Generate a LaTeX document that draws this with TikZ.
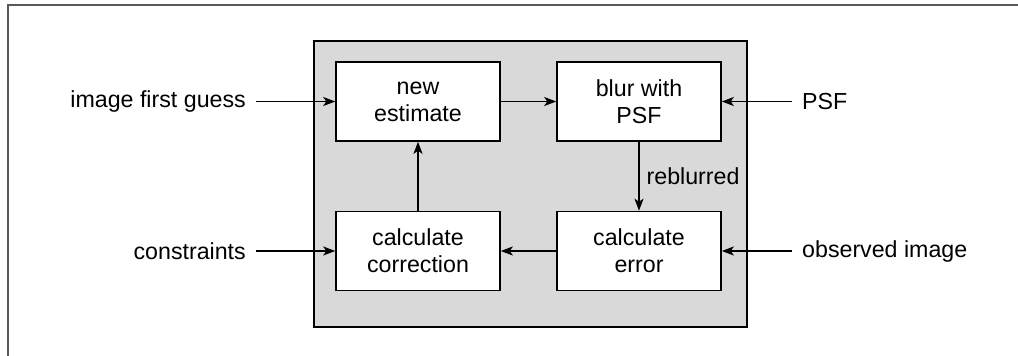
\documentclass[tikz,border=0pt]{standalone}
\usepackage{fontspec}
\setmainfont{Liberation Sans}
\usetikzlibrary{arrows.meta}
\begin{document}
\begin{tikzpicture}[x=1pt,y=-1pt,
  box/.style={draw=black,fill=white,line width=1.6pt,minimum width=164pt,minimum height=79pt,align=center,inner sep=0pt,font=\fontsize{23.2}{26.8}\selectfont},
  lbl/.style={inner sep=0pt,font=\fontsize{23.2}{26.8}\selectfont},
  arr/.style={line width=1.3pt,-{Stealth[length=12pt,width=9pt,inset=3pt]}}]
\useasboundingbox (0,0) rectangle (1018,356);
\draw[line width=2pt,draw=black!65] (8,356) -- (8,5) -- (1018,5);
\node[draw=black,fill=black!15,line width=1.6pt,minimum width=433pt,minimum height=286pt,inner sep=0pt] (bg) at (530.5,184) {};
\node[box] (ne) at (418,101.5) {new\\estimate};
\node[box] (bl) at (639,101.5) {blur with\\PSF};
\node[box] (cc) at (418,251) {calculate\\correction};
\node[box] (ce) at (639,251) {calculate\\error};
\node[lbl,anchor=east] (ig) at (246,101.5) {image first guess};
\node[lbl,anchor=east] (co) at (246,251) {constraints};
\node[lbl,anchor=west] (psf) at (802,101.5) {PSF};
\node[lbl,anchor=west] (oi) at (802,251) {observed image};
\draw[arr] (ig.east) ++(10,0) -- (ne.west);
\draw[arr] (co.east) ++(10,0) -- (cc.west);
\draw[arr] (psf.west) ++(-10,0) -- (bl.east);
\draw[arr] (oi.west) ++(-10,0) -- (ce.east);
\draw[arr] (ne.east) -- (bl.west);
\draw[arr] (ce.west) -- (cc.east);
\draw[arr] (cc.north) -- (ne.south);
\draw[arr] (bl.south) -- node[lbl,anchor=west,xshift=7pt] (rb) {reblurred} (ce.north);
\end{tikzpicture}
\end{document}
